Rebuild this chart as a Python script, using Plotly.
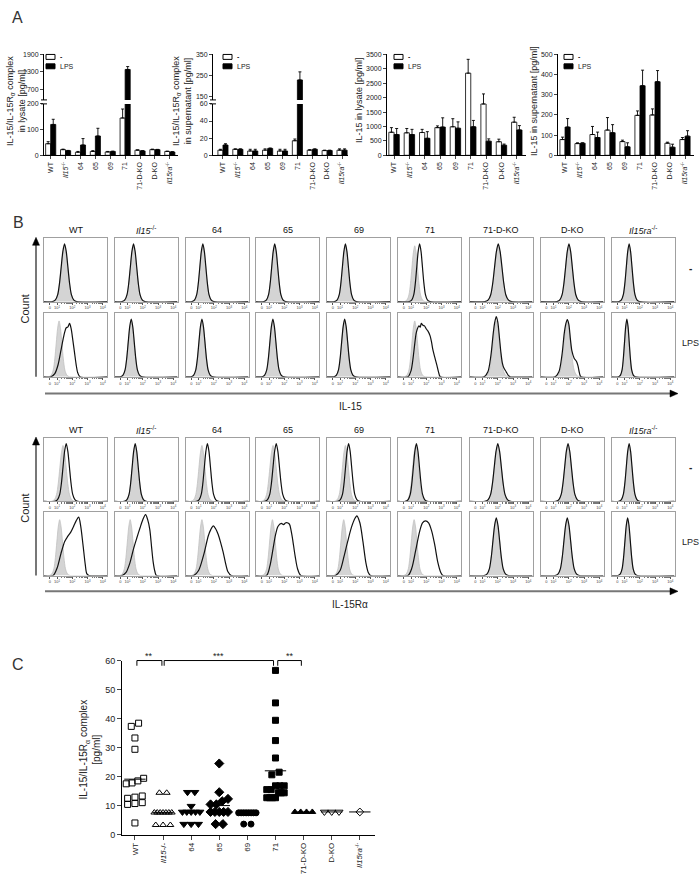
import math
import plotly.graph_objects as go

# ---------------- data ----------------
GROUP_LABELS_A = ["WT", "<i>Il15</i><sup>-/-</sup>", "64", "65", "69", "71", "71-D-KO", "D-KO",
                  "<i>Il15ra</i><sup>-/-</sup>"]
GROUP_LABELS_C = ["WT", "<i>Il15</i>-/-", "64", "65", "69", "71", "71-D-KO", "D-KO",
                  "<i>Il15ra</i><sup>-/-</sup>"]
HEADERS_B = ["WT", "<i>Il15</i><sup>-/-</sup>", "64", "65", "69", "71", "71-D-KO", "D-KO",
             "<i>Il15ra</i><sup>-/-</sup>"]

# Panel A: IL-15/IL-15Ra complex in lysate [pg/ml]
CPLX_LYS_CTRL = [45, 22, 12, 15, 13, 145, 20, 22, 15]
CPLX_LYS_CTRL_SEM = [8, 2, 3, 3, 2, 35, 1, 2, 1]
CPLX_LYS_LPS = [120, 18, 40, 75, 15, 1380, 17, 22, 13]
CPLX_LYS_LPS_SEM = [20, 1, 25, 30, 1, 100, 1, 1, 1]
# IL-15/IL-15Ra complex in supernatant [pg/ml]
CPLX_SUP_CTRL = [6, 7, 5, 6, 5, 17, 6, 5.5, 6]
CPLX_SUP_CTRL_SEM = [1, 0.5, 2, 1.5, 2, 2, 0.5, 0.5, 1.5]
CPLX_SUP_LPS = [12, 7, 5, 8, 5, 230, 7, 5.5, 6]
CPLX_SUP_LPS_SEM = [1.5, 0.5, 2, 0.5, 2, 38, 0.5, 0.5, 1.5]
# IL-15 in lysate [pg/ml]
IL15_LYS_CTRL = [800, 780, 790, 960, 990, 2850, 1780, 470, 1150]
IL15_LYS_CTRL_SEM = [160, 150, 110, 60, 280, 480, 350, 90, 170]
IL15_LYS_LPS = [720, 720, 590, 980, 940, 990, 490, 350, 880]
IL15_LYS_LPS_SEM = [210, 180, 230, 320, 220, 220, 80, 40, 150]
# IL-15 in supernatant [pg/ml]
IL15_SUP_CTRL = [78, 58, 103, 125, 68, 198, 200, 60, 78]
IL15_SUP_CTRL_SEM = [12, 4, 40, 62, 7, 22, 30, 5, 10]
IL15_SUP_LPS = [140, 60, 88, 112, 42, 345, 365, 40, 95]
IL15_SUP_LPS_SEM = [42, 2, 27, 40, 20, 77, 55, 15, 27]

# Panel B: flow histograms (x in decades; gray = isotype, black = stain)
HIST_T_X = [-0.8, -0.6, -0.45, -0.33, -0.22, -0.11, 0.0, 0.11, 0.22, 0.33, 0.45, 0.6, 0.8]
HIST_T_Y = [0.0, 0.03, 0.12, 0.32, 0.6, 0.87, 1.0, 0.87, 0.6, 0.32, 0.12, 0.03, 0.0]

IL15_CTRL_GRAY = [1.49, 1.39, 1.28, 1.37, 1.35, 1.24, 2.03, 2.01, 1.30]
IL15_CTRL_BLACK = [1.49, 1.39, 1.28, 1.37, 1.35, 1.56, 2.03, 2.01, 1.30]
IL15_CTRL_WIDTH = [1.0, 0.95, 0.9, 0.9, 0.9, 0.85, 1.1, 1.0, 0.85]
IL15_LPS_GRAY = [1.13, 1.24, 1.22, 1.25, 1.30, 1.24, 1.90, 1.90, 1.15]
IL15_LPS_BLACK = [None, 1.24, 1.22, 1.25, 1.30, None, None, None, 1.15]
IL15_LPS_WIDTH = [0.85, 0.9, 0.9, 0.9, 0.9, 0.85, 1.0, 1.0, 0.7]
IL15_LPS_CURVES = {
    0: ([0.6, 0.85, 1.06, 1.25, 1.39, 1.5, 1.6, 1.7, 1.82, 1.92, 2.03, 2.14, 2.25, 2.35, 2.5],
        [0, 0.05, 0.19, 0.42, 0.6, 0.72, 0.79, 0.8, 0.86, 0.78, 0.6, 0.4, 0.2, 0.07, 0]),
    5: ([0.8, 1.0, 1.13, 1.25, 1.35, 1.52, 1.6, 1.67, 1.78, 1.88, 2.0, 2.1, 2.25, 2.35, 2.42, 2.55, 2.68, 2.8, 2.92],
        [0, 0.1, 0.3, 0.55, 0.72, 0.82, 0.8, 0.86, 0.83, 0.82, 0.77, 0.74, 0.66, 0.55, 0.45, 0.32, 0.2, 0.08, 0]),
    6: ([1.1, 1.35, 1.55, 1.7, 1.8, 1.9, 2.0, 2.1, 2.2, 2.3, 2.4, 2.55, 2.7, 2.8],
        [0, 0.08, 0.35, 0.7, 0.88, 0.97, 0.88, 0.65, 0.4, 0.22, 0.14, 0.08, 0.02, 0]),
    7: ([1.1, 1.35, 1.55, 1.7, 1.8, 1.9, 2.0, 2.1, 2.2, 2.35, 2.5, 2.6, 2.7, 2.8],
        [0, 0.08, 0.35, 0.7, 0.85, 0.92, 0.85, 0.62, 0.42, 0.3, 0.25, 0.18, 0.06, 0]),
}

RA_CTRL_GRAY = [1.39, 1.50, 1.22, 1.26, 1.35, 1.30, 2.00, 1.95, 1.30]
RA_CTRL_BLACK = [1.60, 1.50, 1.58, 1.47, 1.56, 1.35, 2.00, 1.95, 1.30]
RA_CTRL_WIDTH = [0.95, 0.9, 0.9, 0.95, 0.9, 0.9, 1.05, 1.0, 0.85]
RA_LPS_GRAY = [1.17, 1.17, 1.22, 1.22, 1.24, 1.20, 1.90, 1.90, 1.20]
RA_LPS_BLACK = [None, None, None, None, None, None, 1.90, 1.90, 1.20]
RA_LPS_WIDTH = [0.85, 0.85, 0.85, 0.85, 0.85, 0.85, 1.0, 1.0, 0.8]
RA_LPS_CURVES = {
    0: ([0.74, 1.0, 1.25, 1.5, 1.7, 1.9, 2.1, 2.25, 2.42, 2.55, 2.7, 2.85, 2.95, 3.1],
        [0, 0.12, 0.35, 0.55, 0.63, 0.7, 0.8, 0.88, 0.94, 0.8, 0.5, 0.18, 0.03, 0]),
    1: ([0.64, 0.9, 1.15, 1.39, 1.6, 1.82, 2.0, 2.18, 2.32, 2.46, 2.58, 2.68, 2.8, 2.9],
        [0, 0.05, 0.2, 0.43, 0.6, 0.77, 0.9, 0.98, 0.9, 0.74, 0.45, 0.22, 0.06, 0]),
    2: ([0.68, 1.0, 1.32, 1.64, 1.8, 1.97, 2.13, 2.29, 2.45, 2.61, 2.77, 2.93, 3.15],
        [0, 0.08, 0.32, 0.64, 0.74, 0.8, 0.75, 0.66, 0.53, 0.38, 0.2, 0.06, 0]),
    3: ([0.83, 1.05, 1.26, 1.42, 1.58, 1.8, 1.95, 2.1, 2.33, 2.45, 2.55, 2.72, 2.87, 3.09],
        [0, 0.15, 0.43, 0.65, 0.79, 0.84, 0.82, 0.85, 0.83, 0.72, 0.58, 0.3, 0.11, 0]),
    4: ([0.7, 1.0, 1.25, 1.5, 1.75, 2.0, 2.1, 2.3, 2.5, 2.7, 2.85, 3.0],
        [0, 0.08, 0.3, 0.55, 0.78, 0.93, 0.96, 0.85, 0.55, 0.2, 0.05, 0]),
    5: ([0.8, 1.05, 1.3, 1.55, 1.75, 1.95, 2.15, 2.35, 2.55, 2.75, 2.95, 3.1],
        [0, 0.12, 0.4, 0.7, 0.85, 0.88, 0.85, 0.72, 0.5, 0.22, 0.05, 0]),
}

# Panel C: IL-15/IL-15Ra complex [pg/ml], individual mice
C_WT = [38.4, 37.3, 33.3, 29.4, 19.4, 18.5, 17.8, 17.5, 13.3, 12.9, 12.5, 11.0, 10.7, 10.4, 4.0]
C_IL15 = [14.4, 14.4, 7.6, 7.6, 7.6, 7.6, 7.6, 7.6, 7.6, 3.3, 3.3, 3.3]
C_64 = [14.6, 14.6, 9.8, 7.8, 7.8, 7.8, 7.8, 7.8, 3.6, 3.6, 3.6]
C_65 = [24.5, 14.6, 12.3, 11.5, 10.4, 10.4, 7.8, 7.8, 7.8, 7.8, 7.8, 3.6, 3.6]
C_69 = [7.5, 7.5, 7.5, 7.5, 7.5, 7.5, 7.5, 7.5, 3.6, 3.6]
C_71 = [56.6, 45.4, 39.4, 32.4, 26.4, 21.5, 20.6, 16.8, 16.8, 16.8, 15.5, 15.5,
        14.4, 14.4, 14.4, 12.7, 12.7, 12.7, 12.7]
C_71DKO = [7.8, 7.8, 7.8, 7.8]
C_DKO = [7.8, 7.8, 7.8]
C_IL15RA = [7.8]
C_SERIES = [C_WT, C_IL15, C_64, C_65, C_69, C_71, C_71DKO, C_DKO, C_IL15RA]
C_SYMBOLS = ["square-open", "triangle-up-open", "triangle-down", "diamond", "circle",
             "square", "triangle-up", "triangle-down-open", "diamond-open"]
C_SIGNIF = [(0.07, 0.96, "**"), (1.04, 4.93, "***"), (5.08, 5.92, "**")]

# ---------------- layout helpers ----------------
W, H = 700, 889
FONT = "Arial, 'Liberation Sans', 'DejaVu Sans', sans-serif"


def fx(x):
    return x / W


def fy(y):
    return 1 - y / H


def xdom(a, b):
    return [a / W, b / W]


def ydom(top, bottom):
    return [1 - bottom / H, 1 - top / H]


fig = go.Figure()
layout = {}
shapes = []
annotations = []
axis_n = [0]


def add_axes(xd, yd, xkw, ykw):
    axis_n[0] += 1
    n = axis_n[0]
    s = "" if n == 1 else str(n)
    base = dict(showgrid=False, zeroline=False, fixedrange=True)
    layout["xaxis" + s] = dict(base, domain=xd, anchor="y" + s, **xkw)
    layout["yaxis" + s] = dict(base, domain=yd, anchor="x" + s, **ykw)
    return "x" + s, "y" + s


def text(x, y, t, size=9, angle=0, xanchor="center", yanchor="middle", color="#222"):
    annotations.append(dict(x=fx(x), y=fy(y), xref="paper", yref="paper", text=t, showarrow=False,
                            textangle=angle, xanchor=xanchor, yanchor=yanchor,
                            font=dict(size=size, color=color, family=FONT)))


def line(x0, y0, x1, y1, color="black", width=1):
    shapes.append(dict(type="line", xref="paper", yref="paper", x0=fx(x0), y0=fy(y0), x1=fx(x1),
                       y1=fy(y1), line=dict(color=color, width=width)))


# ---------------- Panel A ----------------
A_XKW = dict(tickvals=list(range(9)), ticktext=GROUP_LABELS_A, tickangle=-90, ticks="outside",
             ticklen=3, tickwidth=1, showline=True, linecolor="black", linewidth=1,
             tickfont=dict(size=7, color="#222", family=FONT))
A_YKW = dict(ticks="outside", ticklen=3, tickwidth=1, showline=True, linecolor="black", linewidth=1,
             tickfont=dict(size=7, color="#222", family=FONT))


def add_bars(xa, ya, ctrl, ctrl_sem, lps, lps_sem):
    for vals, sem, fill in ((ctrl, ctrl_sem, "white"), (lps, lps_sem, "black")):
        fig.add_trace(go.Bar(
            x=list(range(9)), y=vals, xaxis=xa, yaxis=ya, showlegend=False,
            marker=dict(color=fill, line=dict(color="black", width=0.8)),
            error_y=dict(type="data", array=sem, arrayminus=[0] * 9, symmetric=False,
                         color="black", thickness=0.9, width=1.5)))


def legend_key(x0):
    shapes.append(dict(type="rect", xref="paper", yref="paper", x0=fx(x0), x1=fx(x0 + 9),
                       y0=fy(55), y1=fy(50), fillcolor="white", line=dict(color="black", width=1)))
    shapes.append(dict(type="rect", xref="paper", yref="paper", x0=fx(x0), x1=fx(x0 + 9),
                       y0=fy(64.5), y1=fy(59.5), fillcolor="black", line=dict(color="black", width=1)))
    text(x0 + 12, 52.5, "<b>-</b>", size=7, xanchor="left")
    text(x0 + 12, 62, "LPS", size=7, xanchor="left")


def break_marks(x):
    line(x - 3, 96, x + 3, 96, width=1)
    line(x - 3, 100, x + 3, 100, width=1)


# subplot A1 (broken axis)
xr = [-0.45, 8.55]
xa, ya = add_axes(xdom(44, 178), ydom(100, 152), dict(A_XKW, range=xr),
                  dict(A_YKW, range=[0, 200], tickvals=[0, 100, 200]))
add_bars(xa, ya, CPLX_LYS_CTRL, CPLX_LYS_CTRL_SEM, CPLX_LYS_LPS, CPLX_LYS_LPS_SEM)
xa, ya = add_axes(xdom(44, 178), ydom(50, 96), dict(range=xr, visible=False),
                  dict(A_YKW, range=[325, 1900], tickvals=[700, 1300, 1900]))
add_bars(xa, ya, CPLX_LYS_CTRL, CPLX_LYS_CTRL_SEM, CPLX_LYS_LPS, CPLX_LYS_LPS_SEM)
break_marks(44)
legend_key(46)
text(16, 97, "IL-15/IL-15R<sub>α</sub> complex<br>in lysate [pg/ml]", size=9, angle=-90)

# subplot A2 (broken axis)
xr = [-0.67, 8.4]
xa, ya = add_axes(xdom(213, 348), ydom(100, 152), dict(A_XKW, range=xr),
                  dict(A_YKW, range=[0, 60], tickvals=[0, 20, 40, 60]))
add_bars(xa, ya, CPLX_SUP_CTRL, CPLX_SUP_CTRL_SEM, CPLX_SUP_LPS, CPLX_SUP_LPS_SEM)
xa, ya = add_axes(xdom(213, 348), ydom(50, 96), dict(range=xr, visible=False),
                  dict(A_YKW, range=[136, 350], tickvals=[150, 250, 350]))
add_bars(xa, ya, CPLX_SUP_CTRL, CPLX_SUP_CTRL_SEM, CPLX_SUP_LPS, CPLX_SUP_LPS_SEM)
break_marks(213)
legend_key(223)
text(182, 97, "IL-15/IL-15R<sub>α</sub> complex<br>in supernatant [pg/ml]", size=9, angle=-90)

# subplot A3
xa, ya = add_axes(xdom(387, 526), ydom(50, 152), dict(A_XKW, range=[-0.46, 8.6]),
                  dict(A_YKW, range=[0, 3500], tickvals=list(range(0, 3501, 500))))
add_bars(xa, ya, IL15_LYS_CTRL, IL15_LYS_CTRL_SEM, IL15_LYS_LPS, IL15_LYS_LPS_SEM)
legend_key(394)
text(359, 96, "IL-15 in lysate [pg/ml]", size=9, angle=-90)

# subplot A4
xa, ya = add_axes(xdom(558, 694), ydom(50, 152), dict(A_XKW, range=[-0.47, 8.6]),
                  dict(A_YKW, range=[0, 500], tickvals=list(range(0, 501, 100))))
add_bars(xa, ya, IL15_SUP_CTRL, IL15_SUP_CTRL_SEM, IL15_SUP_LPS, IL15_SUP_LPS_SEM)
legend_key(564)
text(534, 97, "IL-15 in supernatant [pg/ml]", size=9, angle=-90)

text(17, 13, "A", size=16, color="#333")

# ---------------- Panel C ----------------
C_X0, C_X1, C_Y0, C_Y1 = 122, 375, 663, 839
C_XR = [-0.46, 8.54]
xa, ya = add_axes(
    xdom(C_X0, C_X1), ydom(C_Y0, C_Y1),
    dict(range=C_XR, tickvals=list(range(9)), ticktext=GROUP_LABELS_C, tickangle=-90,
         ticks="outside", ticklen=4, showline=True, linecolor="black", linewidth=1,
         tickfont=dict(size=8, color="#222", family=FONT)),
    dict(range=[0, 60], tickvals=list(range(0, 61, 10)), ticks="outside", ticklen=4,
         showline=True, linecolor="black", linewidth=1,
         tickfont=dict(size=9, color="#222", family=FONT)))


def spread(vals, center, tol=2.0, step=0.26, maxw=0.62):
    order = sorted(range(len(vals)), key=lambda i: vals[i])
    rows = []
    for i in order:
        if rows and abs(vals[i] - vals[rows[-1][0]]) < tol:
            rows[-1].append(i)
        else:
            rows.append([i])
    xs = [0.0] * len(vals)
    for r in rows:
        n = len(r)
        s = min(step, maxw / (n - 1)) if n > 1 else 0
        for k, i in enumerate(r):
            xs[i] = center + (k - (n - 1) / 2) * s
    return xs


for g, (vals, sym) in enumerate(zip(C_SERIES, C_SYMBOLS)):
    size = 7 if sym in ("triangle-down", "diamond", "triangle-down-open") else 6
    fig.add_trace(go.Scatter(
        x=spread(vals, g), y=vals, mode="markers", xaxis=xa, yaxis=ya, showlegend=False,
        marker=dict(symbol=sym, size=size, color="black", line=dict(color="black", width=1))))
    m = sum(vals) / len(vals)
    fig.add_trace(go.Scatter(x=[g - 0.38, g + 0.38], y=[m, m], mode="lines", xaxis=xa, yaxis=ya,
                             showlegend=False, line=dict(color="black", width=1)))


def c_x(cat):
    return C_X0 + (cat - C_XR[0]) * (C_X1 - C_X0) / (C_XR[1] - C_XR[0])


def c_y(v):
    return C_Y1 - v * (C_Y1 - C_Y0) / 60.0


for a, b, lab in C_SIGNIF:
    ya0, ya1 = c_y(60), c_y(58.2)
    shapes.append(dict(type="path", xref="paper", yref="paper",
                       path=f"M {fx(c_x(a))},{fy(ya1)} L {fx(c_x(a))},{fy(ya0)} "
                            f"L {fx(c_x(b))},{fy(ya0)} L {fx(c_x(b))},{fy(ya1)}",
                       line=dict(color="black", width=1)))
    text((c_x(a) + c_x(b)) / 2, c_y(60) - 5, lab, size=9)

text(90, 753, "IL-15/IL-15R<sub>α</sub> complex<br>[pg/ml]", size=10, angle=-90)
text(18, 667, "C", size=16, color="#333")

# ---------------- Panel B ----------------
B_LEFTS = [44, 114.5, 185.5, 256, 327, 398, 469.5, 540.5, 611.5]
B_W, B_H = 63, 64
HX_RANGE = [0.14, 4.28]
MINOR = [d + math.log10(k) for d in (1, 2, 3) for k in range(2, 10)]


def hist_axes(left, top):
    xkw = dict(range=HX_RANGE, tickvals=[0.53, 1, 2, 3, 4],
               ticktext=["0", "10<sup>1</sup>", "10<sup>2</sup>", "10<sup>3</sup>", "10<sup>4</sup>"],
               tickfont=dict(size=4, color="#444", family=FONT), ticks="outside", ticklen=2,
               tickcolor="#555", tickwidth=0.6, showline=True, mirror=True,
               linecolor="#a0a0a0", linewidth=1,
               minor=dict(tickvals=MINOR, ticks="outside", ticklen=1.2, tickcolor="#777", tickwidth=0.5))
    ykw = dict(range=[0, 1.02], showticklabels=False, ticks="", showline=True, mirror=True,
               linecolor="#a0a0a0", linewidth=1)
    return add_axes(xdom(left, left + B_W), ydom(top, top + B_H), xkw, ykw)


def peak(center, width, height):
    xs = [HX_RANGE[0]] + [center + d * width for d in HIST_T_X] + [HX_RANGE[1]]
    ys = [0] + [height * v for v in HIST_T_Y] + [0]
    return xs, ys


def pad(curve):
    xs, ys = curve
    return [HX_RANGE[0]] + list(xs) + [HX_RANGE[1]], [0] + list(ys) + [0]


def draw_hist(xa, ya, gray_xy, black_xy):
    fig.add_trace(go.Scatter(x=gray_xy[0], y=gray_xy[1], mode="lines", fill="tozeroy",
                             fillcolor="#d4d4d4", line=dict(color="#c0c0c0", width=0.8, shape="spline",
                                                            smoothing=0.8),
                             xaxis=xa, yaxis=ya, showlegend=False))
    fig.add_trace(go.Scatter(x=black_xy[0], y=black_xy[1], mode="lines",
                             line=dict(color="#111", width=1.2, shape="spline", smoothing=0.8),
                             xaxis=xa, yaxis=ya, showlegend=False))


def hist_block(row_tops, header_y, ctrl_gray, ctrl_black, ctrl_w, lps_gray, lps_black, lps_w,
               lps_curves, arrow_y, xlabel):
    for c, left in enumerate(B_LEFTS):
        text(left + B_W / 2, header_y, HEADERS_B[c], size=9, color="#111")
        xa, ya = hist_axes(left, row_tops[0])
        draw_hist(xa, ya, peak(ctrl_gray[c], ctrl_w[c], 0.9), peak(ctrl_black[c], ctrl_w[c], 0.93))
        xa, ya = hist_axes(left, row_tops[1])
        black = peak(lps_black[c], lps_w[c], 0.93) if lps_black[c] is not None else pad(lps_curves[c])
        draw_hist(xa, ya, peak(lps_gray[c], lps_w[c], 0.9), black)
    text(690, row_tops[0] + 30, "<b>-</b>", size=10)
    text(690, row_tops[1] + 30, "LPS", size=9)
    bottom = row_tops[1] + B_H
    # vertical "Count" arrow
    line(36, bottom, 36, row_tops[0] + 6, color="#777", width=2)
    shapes.append(dict(type="path", xref="paper", yref="paper", fillcolor="black",
                       line=dict(color="black", width=0.5),
                       path=f"M {fx(36)},{fy(row_tops[0] - 1)} L {fx(32.5)},{fy(row_tops[0] + 7)} "
                            f"L {fx(39.5)},{fy(row_tops[0] + 7)} Z"))
    text(25, (row_tops[0] + bottom) / 2 + 2, "Count", size=11, angle=-90)
    # horizontal marker arrow
    line(45, arrow_y, 670, arrow_y, color="#777", width=2)
    shapes.append(dict(type="path", xref="paper", yref="paper", fillcolor="black",
                       line=dict(color="black", width=0.5),
                       path=f"M {fx(678)},{fy(arrow_y)} L {fx(670)},{fy(arrow_y - 3.5)} "
                            f"L {fx(670)},{fy(arrow_y + 3.5)} Z"))
    text(350, arrow_y + 13, xlabel, size=10)


hist_block([236, 312], 228, IL15_CTRL_GRAY, IL15_CTRL_BLACK, IL15_CTRL_WIDTH,
           IL15_LPS_GRAY, IL15_LPS_BLACK, IL15_LPS_WIDTH, IL15_LPS_CURVES, 393, "IL-15")
hist_block([438, 513], 430, RA_CTRL_GRAY, RA_CTRL_BLACK, RA_CTRL_WIDTH,
           RA_LPS_GRAY, RA_LPS_BLACK, RA_LPS_WIDTH, RA_LPS_CURVES, 593, "IL-15Rα")
text(18, 220, "B", size=16, color="#333")

fig.update_layout(
    width=W, height=H, margin=dict(l=0, r=0, t=0, b=0), autosize=False,
    paper_bgcolor="white", plot_bgcolor="white", showlegend=False,
    barmode="group", bargap=0.32, bargroupgap=0.0,
    font=dict(family=FONT, color="#222"),
    shapes=shapes, annotations=annotations, **layout)

fig.write_html("out.html", config={"displayModeBar": False},
               post_script="document.body.style.margin='0';document.body.style.overflow='hidden';")
